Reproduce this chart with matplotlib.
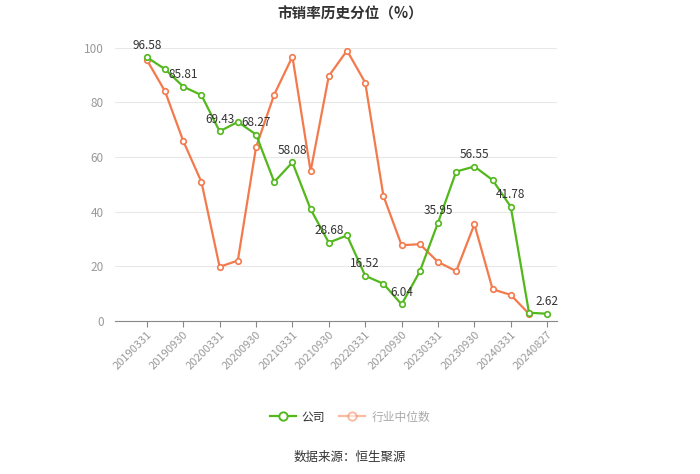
import matplotlib.pyplot as plt
from matplotlib.lines import Line2D

plt.rcParams['font.family'] = ['Noto Sans CJK SC', 'DejaVu Sans']

# data
dates = ["20190331", "20190630", "20190930", "20191231", "20200331", "20200630",
         "20200930", "20201231", "20210331", "20210630", "20210930", "20211231",
         "20220331", "20220630", "20220930", "20221231", "20230331", "20230630",
         "20230930", "20231231", "20240331", "20240630", "20240827"]
company = [96.58, 92.2, 85.81, 82.7, 69.43, 72.9, 68.27, 50.9, 58.08, 40.9,
           28.68, 31.3, 16.52, 13.6, 6.04, 18.1, 35.95, 54.7, 56.55, 51.6,
           41.78, 3.0, 2.62]
industry = [95.6, 84.1, 65.9, 50.9, 19.8, 22.1, 63.6, 82.9, 96.8, 54.8,
            89.7, 99.0, 87.3, 45.8, 27.7, 28.1, 21.6, 18.2, 35.4, 11.6,
            9.5, 2.6]
label_idx = [0, 2, 4, 6, 8, 10, 12, 14, 16, 18, 20, 22]

green = "#52b81c"
orange = "#f37a4c"

fig = plt.figure(figsize=(7, 4.74), dpi=100)
ax = fig.add_axes([0.164, 0.323, 0.632, 0.576])

x = list(range(len(dates)))
ax.plot(x[:len(industry)], industry, color=orange, lw=1.6, marker="o", ms=4,
        mfc="white", mec=orange, mew=1.2, zorder=3)
ax.plot(x, company, color=green, lw=1.6, marker="o", ms=4,
        mfc="white", mec=green, mew=1.2, zorder=4)

for i in label_idx:
    ax.annotate(f"{company[i]:.2f}", (x[i], company[i]), xytext=(0, 4),
                textcoords="offset points", ha="center", va="bottom",
                fontsize=8.5, color="#333333", zorder=5)

ax.set_xlim(-1.76, 22.55)
ax.set_ylim(0, 100)
ax.set_yticks([0, 20, 40, 60, 80, 100])
ax.grid(axis="y", color="#e8e8e8", lw=0.8)
ax.set_axisbelow(True)
for s in ["top", "right", "left"]:
    ax.spines[s].set_visible(False)
ax.spines["bottom"].set_color("#888888")
ax.tick_params(axis="y", length=0, colors="#999999", labelsize=8.5, pad=8)
ax.set_xticks(x[::2])
ax.set_xticklabels(dates[::2], rotation=45, ha="right", rotation_mode="anchor",
                   fontsize=8, color="#999999")
ax.tick_params(axis="x", length=4, color="#888888", pad=2)

fig.text(0.5, 0.972, "市销率历史分位（%）", ha="center", va="center",
         fontsize=10.5, fontweight="bold", color="#333333")

handles = [Line2D([], [], color=green, lw=1.6, marker="o", ms=6, mfc="white", mec=green, mew=1.4),
           Line2D([], [], color=orange, lw=1.6, marker="o", ms=6, mfc="white", mec=orange, mew=1.4, alpha=0.5)]
leg = fig.legend(handles, ["公司", "行业中位数"], loc="center", bbox_to_anchor=(0.5, 0.12),
                 ncol=2, frameon=False, fontsize=8.5, handlelength=2.2, columnspacing=1.2,
                 handletextpad=0.5)
leg.get_texts()[0].set_color("#333333")
leg.get_texts()[1].set_color("#aaaaaa")

fig.text(0.5, 0.034, "数据来源：恒生聚源", ha="center", va="center",
         fontsize=9, color="#333333")

fig.savefig("out.png", dpi=100)
